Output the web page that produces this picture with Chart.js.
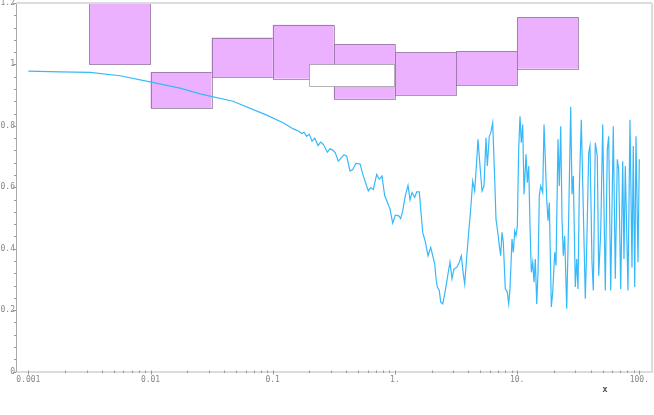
<!DOCTYPE html>
<html>
<head>
<meta charset="utf-8">
<script src="https://cdn.jsdelivr.net/npm/chart.js@4.4.0/dist/chart.umd.min.js"></script>
<style>
html,body{margin:0;padding:0;background:#fff;}
#wrap{width:654px;height:415px;position:relative;}
</style>
</head>
<body>
<div id="wrap"><canvas id="c" width="654" height="415"></canvas></div>
<script>
// ---- data ----
const lineX = [0.001,0.00182,0.0032,0.00563,0.0099,0.0174,0.0254,0.0473,0.0893,0.1215,0.1475,
0.162,0.1727,0.1804,0.1898,0.1994,0.2098,0.2208,0.2349,0.2471,0.2595,0.2798,0.2943,0.3097,0.3253,
0.3441,0.3601,0.3832,0.4031,0.429,0.4514,0.4803,0.5181,0.5513,0.6057,0.6337,0.6655,0.7096,0.745,
0.7837,0.8249,0.8664,0.912,0.959,1.007,1.074,1.115,1.158,1.216,1.28,1.329,1.38,1.452,1.508,1.584,
1.626,1.688,1.773,1.866,1.963,2.039,2.117,2.17,2.223,2.308,2.37,2.461,2.556,2.653,2.719,2.823,
2.932,3.045,3.204,3.365,3.493,3.627,3.724,3.867,4.015,4.17,4.33,4.496,4.669,4.785,4.97,5.162,
5.358,5.564,5.702,5.921,6.08,6.313,6.555,6.717,6.976,7.148,7.339,7.521,7.709,8.003,8.311,8.534,
8.746,9.082,9.307,9.556,9.793,10.04,10.30,10.56,10.82,11.11,11.39,11.83,12.12,12.44,12.75,13.07,
13.42,13.75,14.09,14.47,14.83,15.19,15.60,16.20,16.60,17.01,17.47,17.90,18.34,19.05,19.56,20.30,
20.81,21.61,22.14,22.74,23.30,23.88,24.51,25.46,26.44,27.45,28.13,28.83,29.94,30.73,31.50,32.28,
33.52,34.80,36.14,37.10,38.53,39.48,41.00,42.02,43.63,45.31,46.52,48.31,50.16,52.68,54.70,56.16,
58.32,61.25,63.60,66.04,67.81,70.41,73.11,74.92,76.78,80.77,83.86,87.10,89.25,91.68,93.93,97.54,100];
const lineY = [0.978,0.976,0.974,0.963,0.943,0.923,0.904,0.880,0.835,0.810,0.790,
0.783,0.775,0.779,0.766,0.773,0.750,0.760,0.736,0.747,0.740,0.714,0.725,0.721,0.712,
0.685,0.693,0.706,0.701,0.653,0.658,0.678,0.676,0.637,0.588,0.599,0.593,0.642,0.626,
0.637,0.572,0.552,0.529,0.483,0.509,0.507,0.498,0.523,0.572,0.606,0.559,0.583,0.567,0.585,0.585,
0.529,0.453,0.423,0.377,0.404,0.377,0.350,0.302,0.275,0.264,0.226,0.220,0.253,0.291,0.318,0.356,
0.302,0.334,0.339,0.356,0.377,0.318,0.285,0.372,0.453,0.529,0.620,0.588,0.685,0.756,0.669,0.588,
0.604,0.761,0.669,0.766,0.777,0.810,0.626,0.496,0.447,0.410,0.377,0.453,0.421,0.269,0.258,0.220,
0.269,0.431,0.388,0.458,0.442,0.474,0.723,0.831,0.745,0.804,0.577,0.707,0.615,0.669,0.474,0.323,
0.356,0.291,0.366,0.220,0.323,0.572,0.604,0.583,0.804,0.691,0.561,0.491,0.550,0.210,0.258,0.388,
0.345,0.756,0.604,0.799,0.496,0.377,0.442,0.204,0.507,0.862,0.577,0.637,0.275,0.366,0.269,0.593,
0.820,0.529,0.237,0.399,0.712,0.734,0.356,0.264,0.745,0.701,0.312,0.453,0.804,0.264,0.723,0.766,
0.264,0.799,0.302,0.691,0.658,0.269,0.685,0.366,0.669,0.264,0.820,0.339,0.734,0.275,0.766,0.356,0.691];

const boxX0   = [0.00316,0.01,0.0316,0.1,0.316,1,3.16,10];
const boxX1   = [0.01,0.0316,0.1,0.316,1,3.16,10,31.6];
const boxLow  = [1.0,0.858,0.959,0.9535,0.888,0.9006,0.933,0.986];
const boxHigh = [1.2,0.975,1.0875,1.129,1.066,1.039,1.043,1.154];

const openX0 = [0.2];
const openX1 = [1];
const openLow = [0.9275];
const openHigh = [1.0];

const xTicks = [0.001,0.01,0.1,1,10,100];
const xTickLabels = ['0.001','0.01','0.1','1.','10.','100.'];
const yTicks = [0,0.2,0.4,0.6,0.8,1,1.2];
const yTickLabels = ['0','0.2','0.4','0.6','0.8','1','1.2'];
const xMinorMult = [2,3,4,5,6,7,8,9];
const yMinorStep = 0.04;

const FONT = '"DejaVu Sans Mono", "Liberation Mono", monospace';

const decor = {
  id: 'decor',
  beforeDatasetsDraw(chart) {
    const {ctx, scales:{x, y}} = chart;
    ctx.save();
    for (let i = 0; i < boxX0.length; i++) {
      const l = x.getPixelForValue(boxX0[i]), r = x.getPixelForValue(boxX1[i]);
      const t = y.getPixelForValue(boxHigh[i]), b = y.getPixelForValue(boxLow[i]);
      ctx.fillStyle = 'rgb(235,177,255)';
      ctx.fillRect(l, t, r - l, b - t);
      ctx.strokeStyle = 'rgba(120,88,128,0.62)';
      ctx.lineWidth = 1;
      ctx.strokeRect(Math.round(l) + 0.5, Math.round(t) + 0.5, Math.round(r - l), Math.round(b - t));
    }
    for (let i = 0; i < openX0.length; i++) {
      const l = x.getPixelForValue(openX0[i]), r = x.getPixelForValue(openX1[i]);
      const t = y.getPixelForValue(openHigh[i]), b = y.getPixelForValue(openLow[i]);
      ctx.fillStyle = '#ffffff';
      ctx.fillRect(l, t, r - l, b - t);
      ctx.strokeStyle = 'rgba(120,120,120,0.55)';
      ctx.lineWidth = 1;
      ctx.strokeRect(Math.round(l) + 0.5, Math.round(t) + 0.5, Math.round(r - l), Math.round(b - t));
    }
    ctx.restore();
  },
  afterDraw(chart) {
    const {ctx, chartArea:a, scales:{x, y}} = chart;
    ctx.save();
    // frame top/right
    ctx.strokeStyle = '#dcdcdc';
    ctx.lineWidth = 2;
    ctx.beginPath();
    ctx.moveTo(a.left, a.top); ctx.lineTo(a.right, a.top);
    ctx.moveTo(a.right, a.top); ctx.lineTo(a.right, a.bottom);
    ctx.stroke();
    // x ticks
    ctx.strokeStyle = '#999';
    ctx.lineWidth = 1;
    ctx.beginPath();
    xTicks.forEach(v => {
      const px = Math.round(x.getPixelForValue(v)) + 0.5;
      ctx.moveTo(px, a.bottom - 1); ctx.lineTo(px, a.bottom + 3);
    });
    for (let d = 0.001; d < 100; d *= 10) {
      xMinorMult.forEach(m => {
        const v = m * d;
        if (v > x.max) return;
        const px = Math.round(x.getPixelForValue(v)) + 0.5;
        ctx.moveTo(px, a.bottom - 1); ctx.lineTo(px, a.bottom + 1.5);
      });
    }
    // y ticks
    for (let k = 0; k <= 30; k++) {
      const v = k * yMinorStep;
      const py = Math.round(y.getPixelForValue(v)) + 0.5;
      const len = (k % 5 === 0) ? 3 : 2;
      ctx.moveTo(a.left - len, py); ctx.lineTo(a.left, py);
    }
    ctx.stroke();
    // axis label
    ctx.fillStyle = '#555';
    ctx.font = 'bold 9px ' + FONT;
    ctx.textAlign = 'center';
    ctx.textBaseline = 'middle';
    ctx.fillText('x', 605, 390);
    ctx.restore();
  }
};

const points = lineX.map((v, i) => ({x: v, y: lineY[i]}));

new Chart(document.getElementById('c'), {
  type: 'scatter',
  data: {
    datasets: [{
      data: points,
      showLine: true,
      borderColor: '#36b8fa',
      borderWidth: 1.2,
      pointRadius: 0,
      tension: 0,
      fill: false
    }]
  },
  options: {
    responsive: false,
    animation: false,
    devicePixelRatio: 1,
    layout: {padding: {top: 3, right: 2, left: 0, bottom: 0}},
    plugins: {legend: {display: false}, tooltip: {enabled: false}},
    scales: {
      x: {
        type: 'logarithmic',
        min: 0.000793,
        max: 127,
        grid: {display: false, drawTicks: false},
        border: {display: true, color: '#dcdcdc', width: 2},
        afterBuildTicks: s => { s.ticks = xTicks.map(v => ({value: v})); },
        afterFit: s => { s.height = 43.5; s.paddingLeft = 0; s.paddingRight = 0; },
        ticks: {
          autoSkip: false, maxRotation: 0, minRotation: 0,
          padding: 4,
          color: '#888',
          font: {family: FONT, size: 8},
          callback: (v) => { const i = xTicks.indexOf(v); return i >= 0 ? xTickLabels[i] : ''; }
        }
      },
      y: {
        type: 'linear',
        min: 0,
        max: 1.2,
        grid: {display: false, drawTicks: false},
        border: {display: true, color: '#aaa', width: 1},
        afterBuildTicks: s => { s.ticks = yTicks.map(v => ({value: v})); },
        afterFit: s => { s.width = 16; s.paddingTop = 0; s.paddingBottom = 0; },
        ticks: {
          autoSkip: false,
          padding: 1,
          color: '#888',
          font: {family: FONT, size: 8},
          callback: (v, i) => yTickLabels[i]
        }
      }
    }
  },
  plugins: [decor]
});
</script>
</body>
</html>
